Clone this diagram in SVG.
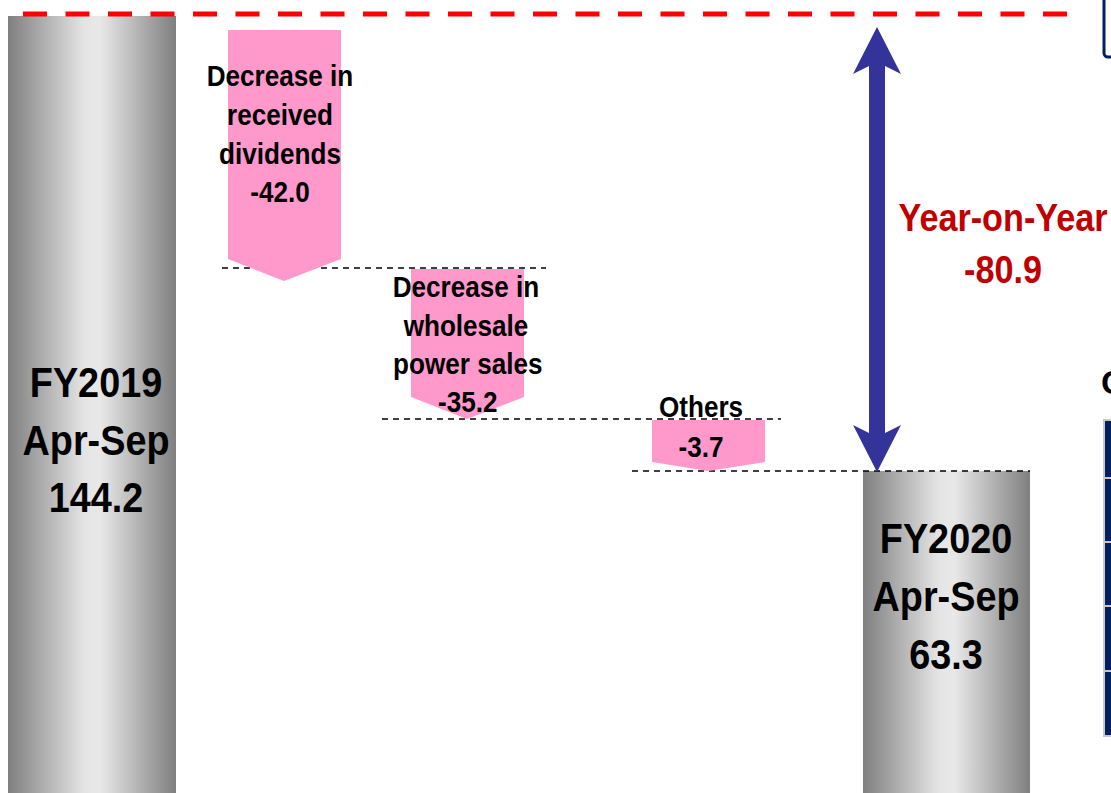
<svg xmlns="http://www.w3.org/2000/svg" width="1111" height="793" viewBox="0 0 1111 793">
<defs>
<linearGradient id="gbar" x1="0" y1="0" x2="1" y2="0">
<stop offset="0" stop-color="#7f7f7f"/>
<stop offset="0.45" stop-color="#e4e4e4"/>
<stop offset="0.55" stop-color="#e8e8e8"/>
<stop offset="1" stop-color="#7f7f7f"/>
</linearGradient>
<style>
.lbl{font-family:"Liberation Sans",Arial,sans-serif;font-weight:bold;fill:#000;text-anchor:middle}
.s27{font-size:29px}
.s38{font-size:42px}
.yoy{font-family:"Liberation Sans",Arial,sans-serif;font-weight:bold;font-size:38px;fill:#c00000;text-anchor:middle}
.pink{fill:#ff99cc}
.dash{stroke:#000;stroke-width:1.5;stroke-dasharray:6 5;fill:none}
.cell{fill:#002060;stroke:#c8c8c8;stroke-width:2}
</style>
</defs>
<rect width="1111" height="793" fill="#fff"/>

<g id="bar-fy2019">
<rect x="8" y="16" width="168" height="790" fill="url(#gbar)"/>
<g transform="translate(96,0) scale(0.9,1)">
<text class="lbl s38" x="0" y="397">FY2019</text>
<text class="lbl s38" x="0" y="455">Apr-Sep</text>
<text class="lbl s38" x="0" y="512">144.2</text>
</g>
</g>

<g id="bar-fy2020">
<rect x="863" y="471" width="167" height="340" fill="url(#gbar)"/>
<g transform="translate(946,0) scale(0.9,1)">
<text class="lbl s38" x="0" y="553">FY2020</text>
<text class="lbl s38" x="0" y="611">Apr-Sep</text>
<text class="lbl s38" x="0" y="669">63.3</text>
</g>
</g>

<g id="connectors">
<line x1="23" y1="14" x2="1070" y2="14" stroke="#ff0000" stroke-width="5" stroke-dasharray="24 18.5"/>
<line class="dash" x1="222" y1="268" x2="546" y2="268"/>
<line class="dash" x1="382" y1="419" x2="781" y2="419"/>
<line class="dash" x1="632" y1="471" x2="1030" y2="471"/>
<polygon id="yoy-arrow" fill="#333399" points="877,27 901,74 885,66 885,433 901,425 877,472 853,425 869,433 869,66 853,74"/>
</g>

<g id="step-dividends">
<polygon class="pink" points="228,30 341,30 341,259 284,281 228,259"/>
<g transform="translate(280,0) scale(0.9,1)">
<text class="lbl s27" x="0" y="86">Decrease in</text>
<text class="lbl s27" x="0" y="125">received</text>
<text class="lbl s27" x="0" y="164">dividends</text>
<text class="lbl s27" x="0" y="202">-42.0</text>
</g>
</g>

<g id="step-wholesale">
<polygon class="pink" points="411,269 524,269 524,397 467,419 411,397"/>
<g transform="translate(466,0) scale(0.9,1)">
<text class="lbl s27" x="0" y="297">Decrease in</text>
<text class="lbl s27" x="0" y="336">wholesale</text>
<text class="lbl s27" x="2" y="374">power sales</text>
<text class="lbl s27" x="2" y="412">-35.2</text>
</g>
</g>

<g id="step-others">
<polygon class="pink" points="652,420 765,420 765,462 708,471 652,462"/>
<g transform="translate(701,0) scale(0.9,1)">
<text class="lbl s27" x="0" y="417">Others</text>
<text class="lbl s27" x="0" y="457">-3.7</text>
</g>
</g>

<g id="yoy-label">
<g transform="translate(1003,0) scale(0.9,1)">
<text class="yoy" x="0" y="231">Year-on-Year</text>
<text class="yoy" x="0" y="283">-80.9</text>
</g>
</g>

<g id="top-right-box">
<rect x="1104" y="-10" width="30" height="67" rx="4" fill="none" stroke="#002060" stroke-width="3"/>
</g>

<g id="right-table">
<text class="lbl" x="1101" y="394" style="font-size:34px;text-anchor:start">C</text>
<rect class="cell" x="1104" y="420" width="20" height="58"/>
<rect class="cell" x="1104" y="478" width="20" height="64"/>
<rect class="cell" x="1104" y="542" width="20" height="64"/>
<rect class="cell" x="1104" y="606" width="20" height="65"/>
<rect class="cell" x="1104" y="671" width="20" height="65"/>
</g>
</svg>
